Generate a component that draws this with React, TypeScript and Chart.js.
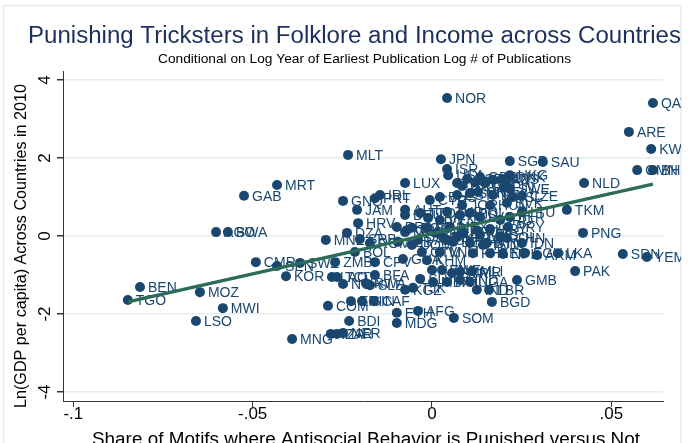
import React, { useEffect, useRef } from 'react';
import { Chart, registerables } from 'chart.js';

Chart.register(...registerables);

// ---- Data ----
const countries = [
  'NOR', 'QAT', 'ARE', 'KWT', 'OMN', 'BHR', 'MLT', 'MRT', 'GAB', 'JPN',
  'ISR', 'USA', 'LUX', 'SGP', 'SAU', 'HKG', 'NLD', 'CZE', 'TKM', 'PNG',
  'SDN', 'YEM', 'PAK', 'LKA', 'ARM', 'EGY', 'NPL', 'GEO', 'CHN', 'IDN',
  'BTN', 'GMB', 'BGD', 'SOM', 'IND', 'LBR', 'MLI', 'HTI', 'UGA', 'BEN',
  'TGO', 'MOZ', 'MWI', 'LSO', 'CMR', 'AGO', 'BWA', 'HRV', 'DZA', 'MNE',
  'SRB', 'ROM', 'BOL', 'ZMB', 'CPV', 'GHA', 'SWZ', 'KOR', 'SEN', 'LAO',
  'TCD', 'BFA', 'NGA', 'RWA', 'SLE', 'KGZ', 'TJK', 'COM', 'ERI', 'GIN',
  'CAF', 'BDI', 'MDG', 'ETH', 'AFG', 'MNG', 'TZA', 'ZAR', 'NER', 'GNQ',
  'PRT', 'IRL', 'JAM', 'AUT', 'DEU', 'BRA', 'ITA', 'GRC', 'ESP', 'FRA',
  'GBR', 'BEL', 'CAN', 'AUS', 'DNK', 'FIN', 'SWE', 'ISL', 'NZL', 'CHE',
  'SVN', 'EST', 'HUN', 'SVK', 'LTU', 'BLR', 'IRQ', 'PRY', 'LVA', 'POL',
  'RUS', 'TUR', 'MEX', 'ARG', 'CHL', 'URY', 'COL', 'PER', 'ECU', 'THA',
  'TUN', 'CRI', 'MAR', 'IRN', 'UKR', 'KAZ', 'MYS', 'PHL', 'VNM', 'KHM',
  'KEN', 'ZWE', 'SYR', 'MMR', 'SLV', 'MDA', 'HND', 'TTO', 'CYP', 'BHS',
  'LBN', 'VEN', 'PAN', 'DOM', 'GTM', 'JOR', 'MKD', 'BGR', 'ALB',
];

const shareResidual = [
  0.0042, 0.0616, 0.0549, 0.0611, 0.0572, 0.0616, -0.0234, -0.0432, -0.0524, 0.0025,
  0.0042, 0.0045, -0.0075, 0.0217, 0.0309, 0.0217, 0.0424, 0.0251, 0.0376, 0.0421,
  0.0532, 0.0599, 0.0399, 0.0351, 0.0293, 0.0259, 0.0198, 0.0162, 0.0209, 0.0251,
  0.0153, 0.0237, 0.0167, 0.0061, 0.0125, 0.0159, 0.0112, 0.0042, 0.0106, -0.0814,
  -0.0848, -0.0647, -0.0583, -0.0658, -0.0491, -0.0602, -0.0569, -0.0206, -0.0237, -0.0296,
  -0.0201, -0.0173, -0.0215, -0.027, -0.0159, -0.0081, -0.0368, -0.0407, -0.0432, -0.0279,
  -0.0265, -0.0159, -0.0248, -0.0184, -0.0173, -0.0075, -0.0053, -0.029, -0.0226, -0.0195,
  -0.0162, -0.0231, -0.0098, -0.0098, -0.0039, -0.039, -0.0282, -0.0265, -0.0248, -0.0248,
  -0.0159, -0.0145, -0.0209, -0.0075, -0.0075, -0.0098, 0.007, 0.0084, 0.0098, 0.012,
  0.0134, 0.0148, 0.017, 0.0195, 0.0212, 0.0201, 0.0217, 0.0226, 0.017, 0.0128,
  0.0106, 0.007, 0.0162, 0.0209, 0.0251, 0.0217, 0.019, 0.0212, 0.0134, 0.0106,
  0.0078, 0.0042, 0.005, 0.0086, 0.0125, 0.0162, 0.019, 0.0031, 0.0059, 0.0106,
  0.0142, -0.007, -0.0014, 0.0014, 0.0042, 0.007, 0.0134, 0.0114, 0.0022, -0.0014,
  0.0, 0.0028, 0.0056, 0.0078, -0.0033, 0.0003, 0.0078, -0.0033, -0.0006, 0.0022,
  -0.0011, 0.0022, -0.0039, -0.0056, -0.0028, 0.0084, -0.0075, -0.0056, -0.0095,
];

const lnGdpResidual = [
  3.54, 3.41, 2.67, 2.23, 1.69, 1.69, 2.08, 1.31, 1.03, 1.97,
  1.72, 1.56, 1.36, 1.92, 1.9, 1.56, 1.36, 1.03, 0.67, 0.08,
  -0.46, -0.54, -0.9, -0.44, -0.49, -0.44, -0.46, -0.44, -0.05, -0.18,
  -0.18, -1.13, -1.69, -2.1, -1.38, -1.38, -0.9, -1.18, -1.18, -1.31,
  -1.64, -1.44, -1.85, -2.18, -0.67, 0.1, 0.1, 0.33, 0.08, -0.1,
  -0.08, -0.18, -0.41, -0.67, -0.67, -0.59, -0.69, -1.03, -0.77, -1.05,
  -1.05, -1.0, -1.23, -1.21, -1.26, -1.38, -1.33, -1.79, -1.67, -1.67,
  -1.67, -2.18, -2.23, -1.97, -1.92, -2.64, -2.51, -2.51, -2.49, 0.9,
  0.97, 1.05, 0.67, 0.67, 0.54, 0.23, 1.36, 1.28, 1.46, 1.38,
  1.51, 1.36, 1.44, 1.46, 1.51, 1.26, 1.21, 1.0, 1.05, 1.13,
  1.1, 1.05, 0.79, 0.85, 0.62, 0.49, 0.41, 0.23, 0.49, 0.59,
  0.54, 0.62, 0.23, 0.1, 0.15, 0.18, -0.03, -0.03, -0.15, -0.18,
  -0.23, 0.15, 0.21, 0.08, -0.1, -0.03, 0.03, -0.44, -0.41, -0.62,
  -0.87, -0.87, -0.95, -0.92, -1.1, -1.18, -1.13, 0.59, 0.92, 1.0,
  0.46, 0.41, -0.1, -0.23, -0.41, 0.79, 0.1, 0.21, -0.15,
];

const fitX = [-0.0848, 0.0616];
const fitY = [-1.69, 1.33];

const xTicks = [-0.1, -0.05, 0, 0.05];
const xTickLabels = ['-.1', '-.05', '0', '.05'];
const yTicks = [-4, -2, 0, 2, 4];
const yTickLabels = ['-4', '-2', '0', '2', '4'];

const titleText = 'Punishing Tricksters in Folklore and Income across Countries';
const subtitleText = 'Conditional on Log Year of Earliest Publication Log # of Publications';
const xTitleText = 'Share of Motifs where Antisocial Behavior is Punished versus Not';
const yTitleText = 'Ln(GDP per capita) Across Countries in 2010';

const NAVY = '#1a476f';
const GREEN = '#2c6b58';
const FONT = '"Liberation Sans", Arial, Helvetica, sans-serif';

function fittedText(
  ctx: CanvasRenderingContext2D,
  text: string,
  cx: number,
  cy: number,
  width: number,
  size: number,
  color: string,
  rotate = 0,
) {
  ctx.save();
  ctx.font = `${size}px ${FONT}`;
  ctx.fillStyle = color;
  ctx.textAlign = 'center';
  ctx.textBaseline = 'middle';
  ctx.translate(cx, cy);
  if (rotate) ctx.rotate(rotate);
  const w = ctx.measureText(text).width;
  ctx.scale(width / w, 1);
  ctx.fillText(text, 0, 0);
  ctx.restore();
}

const labelPlugin = {
  id: 'pointLabels',
  afterDatasetDraw(chart: any, args: any) {
    if (args.index !== 0) return;
    const ctx = chart.ctx as CanvasRenderingContext2D;
    const meta = chart.getDatasetMeta(0);
    ctx.save();
    ctx.beginPath();
    ctx.rect(0, 0, 681, 443);
    ctx.clip();
    ctx.font = `14px ${FONT}`;
    ctx.fillStyle = NAVY;
    ctx.textAlign = 'left';
    ctx.textBaseline = 'middle';
    meta.data.forEach((el: any, i: number) => {
      ctx.fillText(countries[i], el.x + 8, el.y + 1);
    });
    ctx.restore();
  },
};

const decorPlugin = {
  id: 'decor',
  beforeDraw(chart: any) {
    const ctx = chart.ctx as CanvasRenderingContext2D;
    ctx.save();
    ctx.fillStyle = '#ffffff';
    ctx.fillRect(0, 0, chart.width, chart.height);
    ctx.strokeStyle = '#e3ebee';
    ctx.lineWidth = 1.5;
    ctx.strokeRect(3.5, 5.5, 677.5, 460);
    ctx.restore();
  },
  afterDraw(chart: any) {
    const ctx = chart.ctx as CanvasRenderingContext2D;
    fittedText(ctx, titleText, 354.5, 37, 653, 23, '#1d2f5e');
    fittedText(ctx, subtitleText, 364.5, 59, 413, 13, '#000000');
    fittedText(ctx, yTitleText, 22, 246, 324, 16, '#000000', -Math.PI / 2);
    fittedText(ctx, xTitleText, 366, 440, 548, 18, '#000000');

    const xs = chart.scales.x;
    const ys = chart.scales.y;
    ctx.save();
    ctx.font = `17px ${FONT}`;
    ctx.fillStyle = '#000000';
    ctx.textAlign = 'center';
    ctx.textBaseline = 'middle';
    xs.ticks.forEach((t: any, i: number) => {
      ctx.fillText(xTickLabels[i], xs.getPixelForValue(t.value), 414);
    });
    ys.ticks.forEach((t: any, i: number) => {
      ctx.save();
      ctx.translate(45, ys.getPixelForValue(t.value));
      ctx.rotate(-Math.PI / 2);
      ctx.fillText(yTickLabels[i], 0, 0);
      ctx.restore();
    });
    ctx.restore();
  },
};

export default function App() {
  const canvasRef = useRef<HTMLCanvasElement | null>(null);

  useEffect(() => {
    const canvas = canvasRef.current;
    if (!canvas) return;
    const points = shareResidual.map((x, i) => ({ x, y: lnGdpResidual[i] }));
    const fit = fitX.map((x, i) => ({ x, y: fitY[i] }));
    const chart = new Chart(canvas, {
      type: 'scatter',
      data: {
        datasets: [
          {
            label: 'Countries',
            data: points,
            backgroundColor: NAVY,
            borderWidth: 0,
            pointRadius: 5,
            order: 1,
          },
          {
            type: 'line',
            label: 'Fitted',
            data: fit,
            borderColor: GREEN,
            borderWidth: 3.5,
            pointRadius: 0,
            fill: false,
            order: 0,
          } as any,
        ],
      },
      options: {
        animation: false,
        responsive: false,
        events: [],
        layout: { padding: { top: 71, right: 33, left: 0, bottom: 0 } },
        plugins: {
          legend: { display: false },
          tooltip: { enabled: false },
          title: { display: false },
        },
        scales: {
          x: {
            type: 'linear',
            min: -0.10287,
            max: 0.0644,
            afterBuildTicks: (s: any) => {
              s.ticks = xTicks.map((v) => ({ value: v }));
            },
            afterFit: (s: any) => {
              s.height = 42;
            },
            ticks: { display: false },
            grid: {
              drawOnChartArea: false,
              drawTicks: true,
              tickLength: 6,
              tickColor: '#333333',
              lineWidth: 1,
            },
            border: { display: true, color: '#333333', width: 1 },
          },
          y: {
            type: 'linear',
            min: -4.231,
            max: 4.231,
            afterBuildTicks: (s: any) => {
              s.ticks = yTicks.map((v) => ({ value: v }));
            },
            afterFit: (s: any) => {
              s.width = 63;
            },
            ticks: { display: false },
            grid: {
              color: '#e4eef0',
              lineWidth: 1.5,
              drawTicks: true,
              tickLength: 6,
              tickColor: '#333333',
            },
            border: { display: true, color: '#333333', width: 1 },
          },
        },
      },
      plugins: [decorPlugin, labelPlugin],
    });
    return () => chart.destroy();
  }, []);

  return (
    <div style={{ position: 'fixed', left: 0, top: 0, width: 696, height: 443, background: '#fff' }}>
      <canvas ref={canvasRef} width={696} height={443} style={{ display: 'block', width: 696, height: 443 }} />
    </div>
  );
}
